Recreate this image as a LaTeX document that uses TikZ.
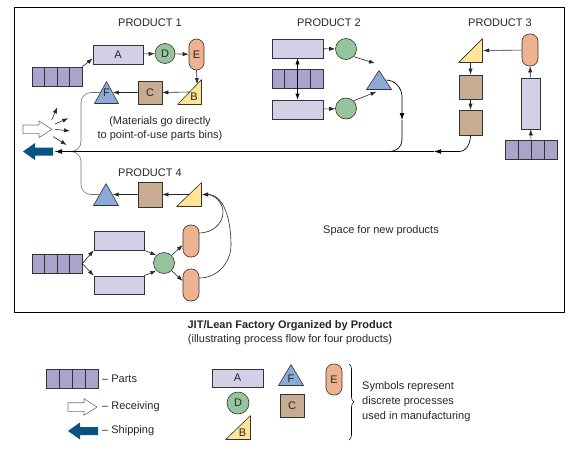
\documentclass[tikz,border=0pt]{standalone}
\usepackage{fontspec}
\setmainfont{Liberation Sans}
\usetikzlibrary{arrows.meta,calc,decorations.pathreplacing}

\definecolor{partfill}{HTML}{A8A4CC}
\definecolor{boxfill}{HTML}{D2D0E6}
\definecolor{circfill}{HTML}{96C49C}
\definecolor{pillfill}{HTML}{EEB28E}
\definecolor{wedgefill}{HTML}{FFE496}
\definecolor{sqfill}{HTML}{C8AC92}
\definecolor{trifill}{HTML}{8CAAD6}
\definecolor{shipfill}{HTML}{0A5282}
\definecolor{inkgray}{HTML}{333333}

\begin{document}
\begin{tikzpicture}[
  x=1pt,y=1pt,
  txt/.style={font=\fontsize{11}{14}\selectfont, text=black!85, inner sep=0pt},
  shp/.style={draw=inkgray, line width=0.6pt, inner sep=0pt, font=\fontsize{11}{13}\selectfont, text=black!85},
  parts/.style={shp, fill=partfill, minimum width=50pt, minimum height=19pt,
    path picture={\foreach \k in {0.25,0.5,0.75}
      \draw[inkgray, line width=0.6pt] ($(path picture bounding box.south west)!\k!(path picture bounding box.south east)$) -- ++(0,20pt);}},
  opbox/.style={shp, fill=boxfill, minimum width=50pt, minimum height=19pt},
  opcirc/.style={shp, circle, fill=circfill, minimum size=21pt},
  oppill/.style={shp, fill=pillfill, rounded corners=7.5pt, minimum width=16pt, minimum height=32pt},
  opsq/.style={shp, fill=sqfill, minimum width=24pt, minimum height=24pt},
  optri/.style={inner sep=0pt, minimum width=26pt, minimum height=23pt, font=\fontsize{11}{13}\selectfont, text=black!85,
    path picture={\draw[inkgray, line width=0.6pt, line join=round, fill=trifill]
      ([shift={(0.5pt,0.5pt)}]path picture bounding box.south west) --
      ([shift={(-0.5pt,0.5pt)}]path picture bounding box.south east) --
      ([yshift=-0.6pt]path picture bounding box.north) -- cycle;}},
  opwedge/.style={inner sep=0pt, minimum width=26pt, minimum height=26pt,
    path picture={\draw[inkgray, line width=0.6pt, line join=round, fill=wedgefill]
      ([shift={(0.6pt,0.5pt)}]path picture bounding box.south west) --
      ([shift={(-0.5pt,0.5pt)}]path picture bounding box.south east) --
      ([shift={(-0.5pt,-0.6pt)}]path picture bounding box.north east) -- cycle;}},
  blabel/.style={label={[txt, xshift=4.5pt, yshift=-5pt]center:B}},
  arr/.style={-{Latex[length=6pt,width=4.2pt]}, line width=0.6pt, draw=black!85},
  bigarr/.style={-{Latex[length=7pt,width=4.8pt]}, line width=0.7pt, draw=black},
  flow/.style={line width=0.7pt, draw=black},
  gflow/.style={line width=0.6pt, draw=black!55, rounded corners=10pt},
  recvarrow/.pic={\draw[draw=black!55, fill=white, line width=0.6pt] (0,4.3) -- (16,4.3) -- (16,8.3) -- (29,0) -- (16,-8.3) -- (16,-4.3) -- (0,-4.3) -- cycle;},
  shiparrow/.pic={\fill[shipfill] (0,0) -- (12,8.5) -- (12,4) -- (30,4) -- (30,-4) -- (12,-4) -- (12,-8.5) -- cycle;}
]
\useasboundingbox (0,0) rectangle (573,-450);
\draw[line width=0.9pt] (14,-7) rectangle (564,-312);

% receiving and shipping
\pic at (23,-129.3) {recvarrow};
\pic at (23,-151.5) {shiparrow};
\coordinate (rcv) at (52,-129.3);
\coordinate (ship) at (55,-151.5);
\foreach \sx/\sy/\tx/\ty in {-0.3/9.3/5.3/22, 3/5.3/16.3/11, 3/0/18/-1.7, 1.3/-7.4/14.7/-15.7}
  \draw[arr] ([shift={(\sx,\sy)}]rcv) -- ([shift={(\tx,\ty)}]rcv);

% product 1
\node[txt] (lbl1) at (150,-23) {PRODUCT 1};
\node[parts] (p1) at (57,-76.5) {};
\node[opbox] (a1) at (118,-54.5) {A};
\node[opcirc, minimum size=20pt] (d1) at (165,-53.5) {D};
\node[oppill, minimum width=15pt, minimum height=31pt] (e1) at (196.5,-54.5) {E};
\node[opwedge, minimum width=25pt, blabel] (b1) at (189.5,-92) {};
\node[opsq, minimum height=23pt] (c1) at (150,-92.5) {C};
\node[optri, minimum width=25pt] (f1) at (106.5,-92.5) {F};
\node[txt, align=center] (note) at (160,-129) {(Materials go directly\\to point-of-use parts bins)};
\draw[arr] (p1.north east) -- ([yshift=-4pt]a1.west);
\draw[arr] (a1) -- (d1);
\draw[arr] (d1) -- (e1);
\draw[arr] (e1.south) -- ($(b1.south west)!0.8!(b1.north east)$);
\draw[arr] (b1.center) -- (c1.east);
\draw[arr] (c1.west) -- ($(f1.south east)!0.5!(f1.north)$);

% product 2
\node[txt] (lbl2) at (329,-23) {PRODUCT 2};
\node[opbox, minimum width=51pt] (r2a) at (297.5,-48.5) {};
\node[parts, minimum width=51pt] (p2) at (297.5,-79) {};
\node[opbox, minimum width=51pt] (r2b) at (297.5,-109.5) {};
\node[opcirc] (c2a) at (346,-49) {};
\node[opcirc] (c2b) at (346,-108.5) {};
\node[optri, minimum height=20pt] (t2) at (379,-80) {};
\coordinate (mid2) at (402,-120);
\draw[{Latex[length=6pt,width=4.2pt]}-{Latex[length=6pt,width=4.2pt]}, line width=0.6pt] (r2a.south) -- (r2b.north);
\draw[arr] (r2a) -- (c2a);
\draw[arr] (r2b) -- (c2b);
\draw[arr] (c2a.south east) -- ([shift={(-4pt,6.5pt)}]t2.north);
\draw[arr] (c2b.north east) -- ([shift={(-2.5pt,-1.5pt)}]t2.south);
\draw[bigarr] ($(t2.south east)!0.5!(t2.north)$) to[out=0,in=90] (402,-97) -- (mid2);
\draw[flow] (mid2) -- (402,-140) to[out=-90,in=0] (390,-151.5);

% product 3
\node[txt] (lbl3) at (500,-23) {PRODUCT 3};
\node[oppill] (e3) at (530,-50) {};
\node[opwedge, minimum width=25pt, minimum height=25pt] (b3) at (470.5,-50.5) {};
\node[opsq, minimum width=23pt] (s3a) at (470.5,-87) {};
\node[opsq, minimum width=23pt, minimum height=25pt] (s3b) at (470.5,-122.5) {};
\node[opbox, minimum width=19pt, minimum height=51pt] (r3) at (530.5,-103.5) {};
\node[parts, minimum width=52pt] (p3) at (531,-149.5) {};
\coordinate (mid3) at (434,-151.5);
\draw[arr] (e3) -- (b3.east);
\draw[arr] (b3.south) -- (s3a.north);
\draw[arr] (s3a) -- (s3b);
\draw[arr] (p3) -- (r3);
\draw[arr] (r3) -- (e3);

% product 4
\node[txt] (lbl4) at (150,-173) {PRODUCT 4};
\node[optri] (f4) at (106,-194.5) {};
\node[opsq, minimum height=25pt] (s4) at (150,-194.5) {};
\node[opwedge, minimum height=25pt] (b4) at (189,-194.5) {};
\node[parts] (p4) at (57,-263.5) {};
\node[opbox] (r4a) at (119,-240.5) {};
\node[opbox, minimum height=18pt] (r4b) at (119,-285) {};
\node[opcirc] (c4) at (164,-263) {};
\node[oppill] (e4a) at (191,-241) {};
\node[oppill] (e4b) at (191,-285) {};
\draw[arr] (p4.east) -- (r4a.south west);
\draw[arr] (p4.east) -- (r4b.north west);
\draw[arr] (r4a.south east) -- (c4.north west);
\draw[arr] (r4b.north east) -- (c4.south west);
\draw[arr] (c4.north east) -- ([yshift=-4pt]e4a.west);
\draw[arr] (c4.south east) -- ([yshift=4pt]e4b.west);
\draw[arr] ([yshift=8pt]e4a.east) to[out=0,in=-90] (223,-212) to[out=90,in=0] (b4.east);
\draw[arr] ([yshift=7pt]e4b.east) to[out=0,in=-90] (231,-245) to[out=90,in=0] (b4.east);
\draw[arr] (b4.center) -- (s4.east);
\draw[arr] (s4.west) -- ($(f4.south east)!0.5!(f4.north)$);

% flow to shipping
\draw[gflow] ($(f1.south west)!0.5!(f1.north)$) -| (81,-151.5) -- (ship);
\draw[gflow] ($(f4.south west)!0.5!(f4.north)$) -| (81,-151.5) -- (ship);
\draw[bigarr] (s3b.south) to[out=-90,in=0] (459,-151.5) -- (mid3);
\draw[bigarr] (mid3) -- (ship);

\node[txt] (space) at (381,-231) {Space for new products};

% caption
\node[txt, font=\fontsize{11}{14}\selectfont\bfseries] (title) at (290,-326) {JIT/Lean Factory Organized by Product};
\node[txt] (subtitle) at (290,-340) {(illustrating process flow for four products)};

% legend
\node[parts, minimum width=52pt] (lparts) at (72,-378.5) {};
\node[txt, anchor=west] (lpartst) at (102,-378.5) {-- Parts};
\pic at (68,-407) {recvarrow};
\node[txt, anchor=west] (lrecvt) at (102,-407) {-- Receiving};
\pic at (68,-431) {shiparrow};
\node[txt, anchor=west] (lshipt) at (102,-431) {-- Shipping};
\node[opbox, minimum width=51pt, minimum height=18pt] (la) at (237.5,-378) {A};
\node[opcirc, minimum size=22pt] (ld) at (238,-403) {D};
\node[opwedge, minimum height=25pt, blabel] (lb) at (238,-427.5) {};
\node[optri, minimum height=22pt, label={[txt, yshift=-4pt]center:F}] (lf) at (291,-375) {};
\node[opsq, minimum height=23pt] (lc) at (292,-405.5) {C};
\node[oppill, minimum height=31pt] (le) at (334,-379.5) {E};
\draw[decorate, decoration={brace, amplitude=5pt}, line width=0.6pt] (349,-364) -- (349,-440);
\node[txt, anchor=west, align=left, font=\fontsize{11}{15}\selectfont] (lsym) at (362,-402) {Symbols represent\\discrete processes\\used in manufacturing};
\end{tikzpicture}
\end{document}
